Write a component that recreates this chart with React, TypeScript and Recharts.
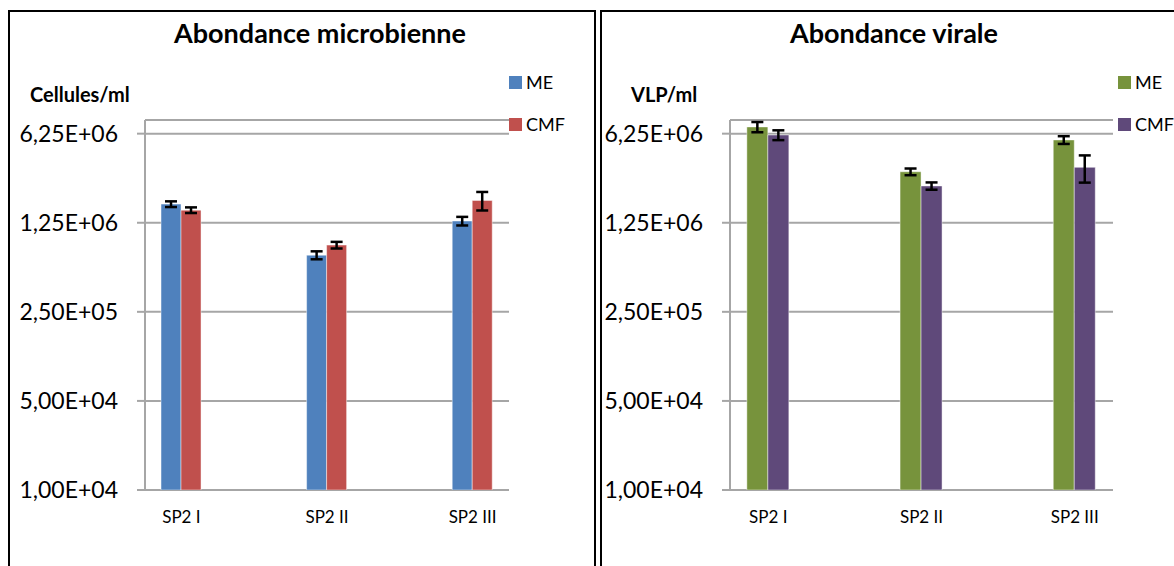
import { BarChart, Bar, XAxis, YAxis, CartesianGrid, ErrorBar } from 'recharts';

const sites = ['SP2 I', 'SP2 II', 'SP2 III'];
const yTicks = [1e4, 5e4, 2.5e5, 1.25e6, 6.25e6];

const microME = [1.75e6, 6.96e5, 1.29e6];
const microMEErr = [9e4, 5e4, 1e5];
const microCMF = [1.57e6, 8.35e5, 1.87e6];
const microCMFErr = [8e4, 5e4, 3.1e5];

const viralME = [7.06e6, 3.14e6, 5.58e6];
const viralMEErr = [6.5e5, 1.9e5, 3.9e5];
const viralCMF = [6.1e6, 2.43e6, 3.4e6];
const viralCMFErr = [5.4e5, 1.6e5, 8.2e5];

const FONT = 'Lato, "Open Sans", sans-serif';
const GRID = '#a6a6a6';

// blank categories between sites, like the original sheet
function buildRows(me: number[], meErr: number[], cmf: number[], cmfErr: number[]) {
  const rows: any[] = [];
  sites.forEach((s, i) => {
    if (i > 0) rows.push({ name: '' });
    rows.push({ name: s, me: me[i], meErr: meErr[i], cmf: cmf[i], cmfErr: cmfErr[i] });
  });
  return rows;
}

const sci = (v: number) => {
  const [m, e] = v.toExponential(2).split('e');
  const exp = parseInt(e, 10);
  return `${m.replace('.', ',')}E${exp < 0 ? '-' : '+'}${String(Math.abs(exp)).padStart(2, '0')}`;
};

type PanelProps = {
  x: number;
  width: number;
  plotLeft: number;
  plotRight: number;
  title: string;
  titleCenter: number;
  unit: string;
  unitX: number;
  legendX: number;
  colors: [string, string];
  data: any[];
};

function Panel(p: PanelProps) {
  const yAxisWidth = p.plotLeft - p.x - 5;
  return (
    <>
      <div
        style={{
          position: 'absolute',
          left: p.titleCenter - 200,
          width: 400,
          top: 19,
          textAlign: 'center',
          fontSize: 27,
          lineHeight: '27px',
          fontWeight: 700,
        }}
      >
        {p.title}
      </div>
      <div style={{ position: 'absolute', left: p.unitX, top: 84, fontSize: 20, lineHeight: '20px', fontWeight: 700 }}>
        {p.unit}
      </div>
      {['ME', 'CMF'].map((name, i) => (
        <div
          key={name}
          style={{ position: 'absolute', left: p.legendX, top: 73 + i * 42, fontSize: 18, lineHeight: '18px', whiteSpace: 'nowrap' }}
        >
          <span style={{ display: 'inline-block', width: 13, height: 13, background: p.colors[i], marginRight: 4 }} />
          {name}
        </div>
      ))}
      <div style={{ position: 'absolute', left: p.x, top: 0 }}>
        <BarChart
          width={p.width}
          height={566}
          data={p.data}
          margin={{ top: 120, bottom: 36, left: 5, right: p.x + p.width - p.plotRight }}
          barCategoryGap="22%"
          barGap={0}
        >
          <CartesianGrid xAxisId="cat" vertical={false} stroke={GRID} strokeWidth={2} />
          <XAxis
            xAxisId="grid"
            type="number"
            domain={[0, 5]}
            ticks={[0, 1, 2, 3, 4, 5]}
            allowDataOverflow
            tick={false}
            tickSize={8}
            height={0}
            stroke={GRID}
            strokeWidth={2}
          />
          <XAxis
            xAxisId="cat"
            dataKey="name"
            interval={0}
            tickLine={false}
            axisLine={false}
            tickMargin={15}
            height={40}
            tick={{ fontSize: 17, fill: '#000', fontFamily: FONT }}
          />
          <YAxis
            scale="log"
            domain={[1e4, 8e6]}
            allowDataOverflow
            ticks={yTicks}
            tickFormatter={sci}
            width={yAxisWidth}
            tickSize={8}
            tickMargin={19}
            stroke={GRID}
            strokeWidth={2}
            tick={{ fontSize: 23, fill: '#000', fontFamily: FONT }}
          />
          <Bar xAxisId="cat" dataKey="me" fill={p.colors[0]} stroke="#fff" strokeOpacity={0.45} strokeWidth={1} isAnimationActive={false}>
            <ErrorBar dataKey="meErr" width={6} stroke="#000" strokeWidth={2.5} />
          </Bar>
          <Bar xAxisId="cat" dataKey="cmf" fill={p.colors[1]} stroke="#fff" strokeOpacity={0.45} strokeWidth={1} isAnimationActive={false}>
            <ErrorBar dataKey="cmfErr" width={6} stroke="#000" strokeWidth={2.5} />
          </Bar>
        </BarChart>
      </div>
    </>
  );
}

export default function App() {
  return (
    <div
      style={{
        position: 'fixed',
        left: 0,
        top: 0,
        width: 1174,
        height: 566,
        overflow: 'hidden',
        background: '#fff',
        fontFamily: FONT,
        color: '#000',
      }}
    >
      <div style={{ position: 'absolute', left: 8, top: 10, width: 588, height: 620, border: '2px solid #000', boxSizing: 'border-box' }} />
      <div style={{ position: 'absolute', left: 600, top: 10, width: 620, height: 620, border: '2px solid #000', boxSizing: 'border-box' }} />
      <Panel
        x={10}
        width={560}
        plotLeft={145}
        plotRight={509}
        title="Abondance microbienne"
        titleCenter={320}
        unit="Cellules/ml"
        unitX={30}
        legendX={509}
        colors={['#4F81BD', '#C0504D']}
        data={buildRows(microME, microMEErr, microCMF, microCMFErr)}
      />
      <Panel
        x={602}
        width={560}
        plotLeft={730}
        plotRight={1113}
        title="Abondance virale"
        titleCenter={894}
        unit="VLP/ml"
        unitX={631}
        legendX={1118}
        colors={['#77933C', '#5F497A']}
        data={buildRows(viralME, viralMEErr, viralCMF, viralCMFErr)}
      />
    </div>
  );
}
